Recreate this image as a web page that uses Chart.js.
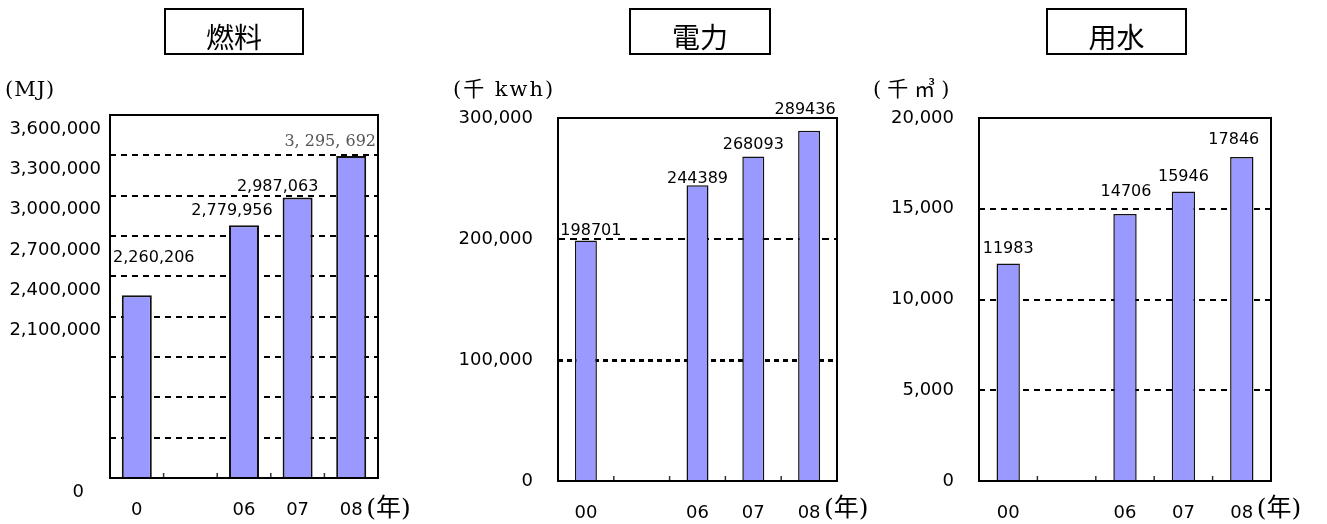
<!DOCTYPE html>
<html>
<head>
<meta charset="utf-8">
<script src="https://cdn.jsdelivr.net/npm/chart.js@4.4.1/dist/chart.umd.min.js"></script>
<style>
  html, body { margin: 0; padding: 0; background: #fff; }
  #wrap { position: relative; width: 1327px; height: 524px; overflow: hidden; }
  .cell { position: absolute; top: 0; height: 524px; }
</style>
</head>
<body>
<div id="wrap">
  <div class="cell" style="left:0;width:420px"><canvas id="fuel"></canvas></div>
  <div class="cell" style="left:420px;width:470px"><canvas id="power"></canvas></div>
  <div class="cell" style="left:860px;width:467px"><canvas id="water"></canvas></div>
</div>
<script>
// categories (second slot is an empty year)
const fuelYears = ["0", "", "06", "07", "08"];
const otherYears = ["00", "", "06", "07", "08"];

// series values
const fuelValues = [2260206, null, 2779956, 2987063, 3295692];
const powerValues = [198701, null, 244389, 268093, 289436];
const waterValues = [11983, null, 14706, 15946, 17846];

// value labels as printed above the bars
const fuelBarLabels = ["2,260,206", "", "2,779,956", "2,987,063", "3, 295, 692"];
const powerBarLabels = ["198701", "", "244389", "268093", "289436"];
const waterBarLabels = ["11983", "", "14706", "15946", "17846"];

// tick labels, bottom to top
const fuelTickLabels = ["0", "", "", "", "2,100,000", "2,400,000", "2,700,000", "3,000,000", "3,300,000", "3,600,000"];
const powerTickLabels = ["0", "100,000", "200,000", "300,000"];
const waterTickLabels = ["0", "5,000", "10,000", "15,000", "20,000"];

Chart.defaults.font.family = '"DejaVu Sans", sans-serif';
Chart.defaults.color = "#000";

// draws frame, inner ticks, value labels, title box, unit and year labels
const decoPlugin = {
  id: "deco",
  beforeDatasetsDraw(chart, args, o) {
    const { ctx, chartArea: a } = chart;
    const xs = chart.scales.x;
    ctx.save();
    ctx.strokeStyle = "#333";
    ctx.lineWidth = 1.5;
    for (let i = 1; i < xs.ticks.length; i++) {
      const x = (xs.getPixelForTick(i - 1) + xs.getPixelForTick(i)) / 2;
      ctx.beginPath();
      ctx.moveTo(x, a.bottom);
      ctx.lineTo(x, a.bottom - 5);
      ctx.stroke();
    }
    ctx.restore();
  },
  afterDatasetsDraw(chart, args, o) {
    const { ctx, chartArea: a } = chart;
    const xs = chart.scales.x;
    ctx.save();
    ctx.strokeStyle = "#000";
    ctx.lineWidth = 2;
    ctx.strokeRect(a.left, a.top, a.right - a.left, a.bottom - a.top);

    // value labels
    ctx.textAlign = "center";
    ctx.textBaseline = "alphabetic";
    chart.getDatasetMeta(0).data.forEach((bar, i) => {
      const txt = o.labels[i];
      if (!txt) return;
      ctx.font = (o.labelFonts && o.labelFonts[i]) || '16px "DejaVu Sans"';
      ctx.fillStyle = (o.labelColors && o.labelColors[i]) || "#000";
      ctx.fillText(txt, bar.x + o.dx[i], bar.y - o.dy[i] + 6);
    });

    // title in a box
    ctx.fillStyle = "#000";
    const [x1, x2] = o.box;
    ctx.strokeRect(x1, 9, x2 - x1, 45);
    ctx.font = '28px "Noto Sans CJK JP"';
    ctx.textBaseline = "middle";
    ctx.fillText(o.title, (x1 + x2) / 2, 37);

    // unit above the axis
    ctx.textAlign = "left";
    ctx.font = '21px "DejaVu Serif", "Noto Sans CJK JP"';
    ctx.letterSpacing = o.unitSpacing + "px";
    ctx.fillText(o.unit, o.unitX, 91);

    // year marker after the last category
    ctx.letterSpacing = "0px";
    ctx.font = '25px "DejaVu Serif", "Noto Sans CJK JP"';
    const last = xs.getPixelForTick(xs.ticks.length - 1);
    ctx.fillText("(年)", last + 15, 509);
    ctx.restore();
  },
};

function makeChart(id, cfg) {
  const ctx = document.getElementById(id).getContext("2d");
  return new Chart(ctx, {
    type: "bar",
    data: {
      labels: cfg.labels,
      datasets: [
        {
          data: cfg.values,
          backgroundColor: "#9999ff",
          borderColor: "#111",
          borderWidth: cfg.barBorder,
          barPercentage: cfg.barPct,
          categoryPercentage: 1,
        },
      ],
    },
    options: {
      responsive: true,
      maintainAspectRatio: false,
      animation: false,
      events: [],
      layout: { padding: cfg.padding },
      scales: {
        x: {
          grid: { display: false, drawTicks: false },
          border: { display: false },
          ticks: { font: { size: 18 }, padding: 22, maxRotation: 0, autoSkip: false },
          afterFit: (s) => { s.height = 40; },
        },
        y: {
          min: cfg.min,
          max: cfg.max,
          ticks: {
            stepSize: cfg.step,
            font: { size: 18 },
            padding: cfg.tickPad,
            labelOffset: cfg.labelOffset || 0,
            callback: (v, i) => (i === 0 ? cfg.tickLabels[0] + (cfg.zeroPad || "") : cfg.tickLabels[i]),
          },
          grid: {
            color: "#000",
            drawTicks: false,
            lineWidth: cfg.gridWidth,
          },
          border: { display: false, dash: cfg.gridDash },
          afterFit: (s) => { s.width = cfg.axisWidth; },
        },
      },
      plugins: {
        legend: { display: false },
        tooltip: { enabled: false },
        deco: cfg.deco,
      },
    },
    plugins: [decoPlugin],
  });
}

makeChart("fuel", {
  labels: fuelYears,
  values: fuelValues,
  min: 900000, max: 3600000, step: 300000,
  tickLabels: fuelTickLabels,
  zeroPad: "   ",
  labelOffset: 14,
  tickPad: 9,
  axisWidth: 110,
  padding: { left: 0, top: 115, right: 42, bottom: 6 },
  barPct: 0.56,
  barBorder: 2,
  gridWidth: 2,
  gridDash: [6, 5],
  deco: {
    title: "燃料", box: [165, 303],
    unit: "(MJ)", unitX: 5, unitSpacing: 1,
    labels: fuelBarLabels,
    dx: [17, 0, -12, -20, -21],
    dy: [39, 0, 16, 12, 16],
    labelFonts: [null, null, null, null, '16px "DejaVu Serif"'],
    labelColors: [null, null, null, null, "#555"],
  },
});

makeChart("power", {
  labels: otherYears,
  values: powerValues,
  min: 0, max: 300000, step: 100000,
  tickLabels: powerTickLabels,
  tickPad: 25,
  axisWidth: 138,
  padding: { left: 0, top: 118, right: 53, bottom: 3 },
  barPct: 0.394,
  barBorder: 1.5,
  gridWidth: (c) => (c.tick && c.tick.value === 100000 ? 3 : 2),
  gridDash: (c) => (c.tick && c.tick.value === 100000 ? [5, 4] : [7, 5]),
  deco: {
    title: "電力", box: [210, 350],
    unit: "(千 kwh)", unitX: 33, unitSpacing: 2,
    labels: powerBarLabels,
    dx: [5, 0, 0, 0, -4],
    dy: [12, 0, 8, 14, 23],
  },
});

makeChart("water", {
  labels: otherYears,
  values: waterValues,
  min: 0, max: 20000, step: 5000,
  tickLabels: waterTickLabels,
  tickPad: 25,
  axisWidth: 119,
  padding: { left: 0, top: 118, right: 56, bottom: 3 },
  barPct: 0.4,
  barBorder: 1.5,
  gridWidth: 2,
  gridDash: [6, 5],
  deco: {
    title: "用水", box: [187, 326],
    unit: "(千㎥)", unitX: 13, unitSpacing: 6,
    labels: waterBarLabels,
    dx: [0, 0, 1, 0, -8],
    dy: [17, 0, 24, 17, 19],
  },
});
</script>
</body>
</html>
